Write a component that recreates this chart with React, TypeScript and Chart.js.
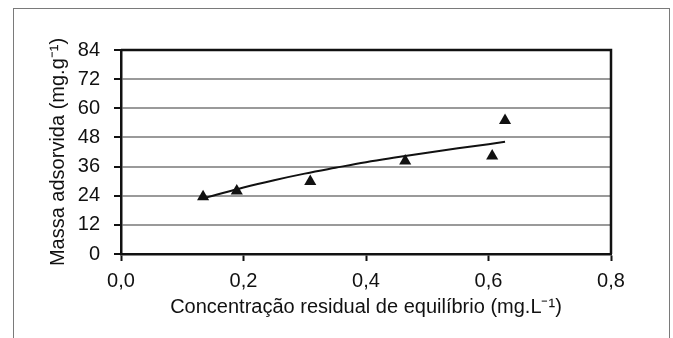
import React, { useEffect, useRef } from "react";
import { Chart, registerables } from "chart.js";

Chart.register(...registerables);

// Measured points (Concentração residual de equilíbrio, Massa adsorvida)
const pointX = [0.134, 0.189, 0.309, 0.464, 0.606, 0.627];
const pointY = [23.6, 25.9, 29.9, 38.3, 40.4, 55.0];

// Fitted curve
const curveX = [0.13, 0.15, 0.2, 0.25, 0.3, 0.35, 0.4, 0.45, 0.5, 0.55, 0.6, 0.627];
const curveY = [22.6, 24.0, 27.4, 30.4, 33.1, 35.5, 37.8, 39.8, 41.7, 43.5, 45.2, 46.2];

const xTicks = [0, 0.2, 0.4, 0.6, 0.8];
const yTicks = [0, 12, 24, 36, 48, 60, 72, 84];

const xTitle = "Concentração residual de equilíbrio (mg.L⁻¹)";
const yTitle = "Massa adsorvida (mg.g⁻¹)";

const FONT = "'Liberation Sans', Arial, Helvetica, sans-serif";
const TEXT = "#111";

const plotBorder = {
  id: "plotBorder",
  afterDraw(chart: any) {
    const { ctx, chartArea } = chart;
    ctx.save();
    ctx.strokeStyle = "#111";
    ctx.lineWidth = 2.5;
    ctx.beginPath();
    ctx.moveTo(chartArea.left, chartArea.top);
    ctx.lineTo(chartArea.right, chartArea.top);
    ctx.lineTo(chartArea.right, chartArea.bottom);
    ctx.stroke();
    ctx.restore();
  },
};

export default function App() {
  const ref = useRef<HTMLCanvasElement | null>(null);

  useEffect(() => {
    if (!ref.current) return;
    const chart = new Chart(ref.current, {
      type: "scatter",
      data: {
        datasets: [
          {
            type: "line",
            data: curveX.map((x, i) => ({ x, y: curveY[i] })),
            borderColor: "#111",
            borderWidth: 2,
            pointRadius: 0,
            tension: 0.4,
            fill: false,
            order: 2,
          } as any,
          {
            type: "scatter",
            data: pointX.map((x, i) => ({ x, y: pointY[i] })),
            pointStyle: "triangle",
            pointRadius: 7,
            backgroundColor: "#111",
            borderColor: "#111",
            borderWidth: 0,
            order: 1,
          },
        ],
      },
      options: {
        responsive: false,
        animation: false,
        layout: { padding: { left: 0, right: 62, top: 50, bottom: 0 } },
        plugins: { legend: { display: false }, tooltip: { enabled: false } },
        scales: {
          x: {
            type: "linear",
            min: 0,
            max: 0.8,
            afterFit: (s: any) => {
              s.height = 84;
            },
            afterBuildTicks: (s: any) => {
              s.ticks = xTicks.map((v) => ({ value: v }));
            },
            ticks: {
              color: TEXT,
              font: { family: FONT, size: 20 },
              padding: 8,
              maxRotation: 0,
              callback: (v: any) => Number(v).toFixed(1).replace(".", ","),
            },
            grid: {
              drawOnChartArea: false,
              drawTicks: true,
              tickLength: 7,
              tickColor: "#111",
              tickWidth: 2,
            },
            border: { color: "#111", width: 2.5 },
            title: {
              display: true,
              text: xTitle,
              color: TEXT,
              font: { family: FONT, size: 20 },
              padding: { top: 0, bottom: 19 },
            },
          },
          y: {
            type: "linear",
            min: 0,
            max: 84,
            afterFit: (s: any) => {
              s.width = 121;
            },
            afterBuildTicks: (s: any) => {
              s.ticks = yTicks.map((v) => ({ value: v }));
            },
            ticks: {
              color: TEXT,
              font: { family: FONT, size: 20 },
              padding: 14,
            },
            grid: {
              color: (c: any) => (c.tick && (c.tick.value === 0 || c.tick.value === 84) ? "rgba(0,0,0,0)" : "#9a9a9a"),
              lineWidth: 2,
              drawTicks: true,
              tickLength: 7,
              tickColor: "#111",
              tickWidth: 2,
            },
            border: { color: "#111", width: 2.5 },
            title: {
              display: true,
              text: yTitle,
              color: TEXT,
              font: { family: FONT, size: 20 },
              padding: { top: 46, bottom: 0 },
            },
          },
        },
      },
      plugins: [plotBorder],
    });
    return () => chart.destroy();
  }, []);

  return (
    <div
      style={{
        position: "fixed",
        left: 0,
        top: 0,
        width: 673,
        height: 338,
        background: "#fff",
        overflow: "hidden",
      }}
    >
      <div
        style={{
          position: "absolute",
          left: 13,
          top: 8,
          width: 657,
          height: 360,
          border: "1.5px solid #7a7a7a",
          boxSizing: "border-box",
        }}
      />
      <canvas ref={ref} width={673} height={338} style={{ position: "absolute", left: 0, top: 0, width: 673, height: 338 }} />
    </div>
  );
}
